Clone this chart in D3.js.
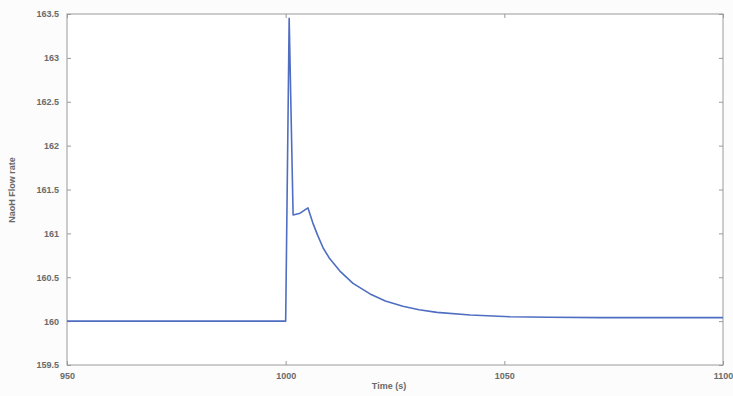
<!DOCTYPE html>
<html>
<head>
<meta charset="utf-8">
<script src="https://cdn.jsdelivr.net/npm/d3@7"></script>
<style>
  body { margin: 0; background: #fcfcfc; }
  text { font-family: "Liberation Sans", Arial, sans-serif; }
</style>
</head>
<body>
<div id="chart"></div>
<script>
// data
var timeVals = [950, 1000, 1000.8, 1001.7, 1003.3, 1005.1, 1006.2, 1007.3, 1008.6, 1010.1, 1012.4, 1015.4, 1019.3, 1022.8, 1026.8, 1030.5, 1034.6, 1042.2, 1051.3, 1060, 1072, 1085, 1100];
var flowVals = [160, 160, 163.45, 161.21, 161.23, 161.29, 161.12, 160.98, 160.83, 160.71, 160.57, 160.43, 160.31, 160.23, 160.17, 160.13, 160.10, 160.07, 160.05, 160.045, 160.04, 160.04, 160.04];
var xTicks = [950, 1000, 1050, 1100];
var yTicks = [159.5, 160, 160.5, 161, 161.5, 162, 162.5, 163, 163.5];

var W = 733, H = 396;
// plot box (window.top is reserved, so use other names)
var pLeft = 67, pRight = 723, pTop = 14, pBottom = 365;

var svg = d3.select("#chart").append("svg")
    .attr("width", W)
    .attr("height", H);

var x = d3.scaleLinear().domain([950, 1100]).range([pLeft, pRight]);
var y = d3.scaleLinear().domain([159.5, 163.5]).range([pBottom, pTop]);

// box
svg.append("rect")
    .attr("x", pLeft).attr("y", pTop)
    .attr("width", pRight - pLeft).attr("height", pBottom - pTop)
    .attr("fill", "#fff")
    .attr("stroke", "#9a9a9a")
    .attr("stroke-width", 1);

// inward ticks on all sides
var bAxis = svg.append("g").attr("transform", "translate(0," + pBottom + ")")
    .call(d3.axisBottom(x).tickValues(xTicks).tickSize(-4).tickPadding(8).tickFormat(d3.format("d")));
var tAxis = svg.append("g").attr("transform", "translate(0," + pTop + ")")
    .call(d3.axisTop(x).tickValues(xTicks).tickSize(-4).tickFormat(""));
var lAxis = svg.append("g").attr("transform", "translate(" + pLeft + ",0)")
    .call(d3.axisLeft(y).tickValues(yTicks).tickSize(-4).tickPadding(8).tickFormat(function(d){ return String(d); }));
var rAxis = svg.append("g").attr("transform", "translate(" + pRight + ",0)")
    .call(d3.axisRight(y).tickValues(yTicks).tickSize(-4).tickFormat(""));

[bAxis, tAxis, lAxis, rAxis].forEach(function(a){
    a.select(".domain").remove();
    a.selectAll(".tick line").attr("stroke", "#9a9a9a");
    a.selectAll("text")
        .attr("fill", "#6a6a6a")
        .attr("font-size", 9)
        .attr("font-weight", "bold");
});

// the line
var pts = timeVals.map(function(t, i){ return [t, flowVals[i]]; });
var line = d3.line()
    .x(function(d){ return x(d[0]); })
    .y(function(d){ return y(d[1]); });

svg.append("path")
    .datum(pts)
    .attr("d", line)
    .attr("fill", "none")
    .attr("stroke", "#4f6ec2")
    .attr("stroke-width", 1.6)
    .attr("stroke-linejoin", "round");

// axis labels
svg.append("text")
    .attr("x", 389).attr("y", 389)
    .attr("text-anchor", "middle")
    .attr("font-size", 9)
    .attr("font-weight", "bold")
    .attr("fill", "#6a6a6a")
    .text("Time (s)");

svg.append("text")
    .attr("transform", "translate(15,190) rotate(-90)")
    .attr("text-anchor", "middle")
    .attr("font-size", 9)
    .attr("font-weight", "bold")
    .attr("fill", "#6a6a6a")
    .text("NaoH Flow rate");
</script>
</body>
</html>
